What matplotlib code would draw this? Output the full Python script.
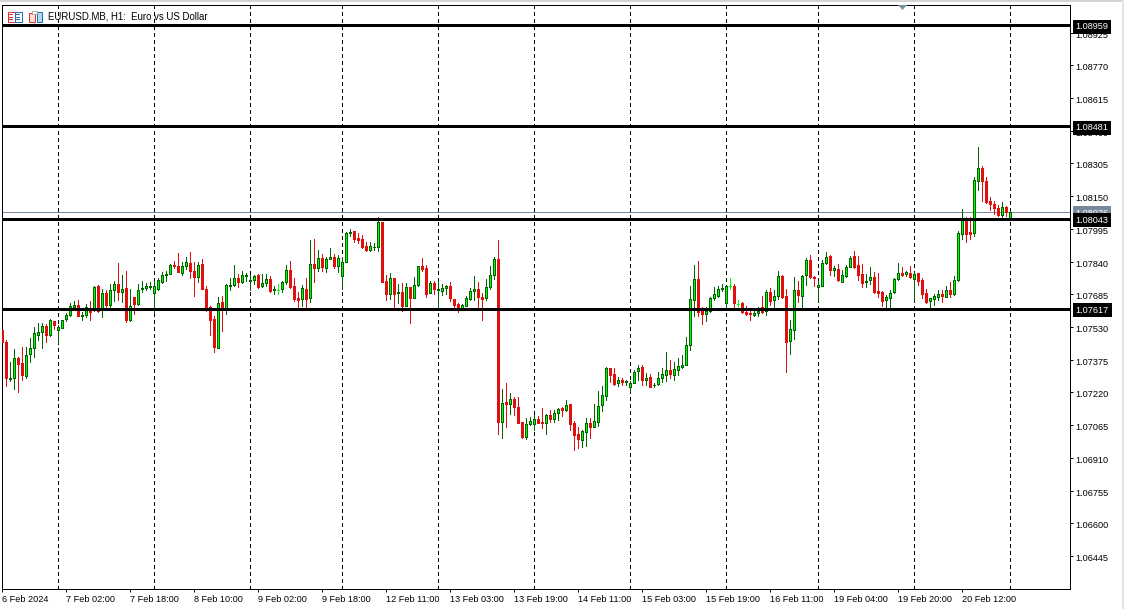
import numpy as np
import matplotlib
matplotlib.use('Agg')
import matplotlib.pyplot as plt
from matplotlib.patches import Rectangle, Polygon
from matplotlib.transforms import blended_transform_factory, ScaledTranslation

# hourly candles in points (1 point = 0.00001)
opens = [
    107518,107461,107284,107289,107385,107361,107297,107401,107431,107491,
    107505,107537,107491,107560,107514,107524,107566,107585,107626,107634,
    107581,107585,107606,107620,107724,107615,107691,107636,107704,107734,
    107694,107715,107562,107672,107641,107708,107715,107721,107690,107708,
    107743,107775,107781,107824,107821,107787,107821,107833,107795,107765,
    107830,107710,107625,107568,107431,107650,107620,107726,107727,107762,
    107742,107770,107746,107754,107776,107723,107737,107757,107704,107707,
    107708,107742,107800,107724,107668,107661,107710,107668,107828,107811,
    107857,107808,107851,107862,107817,107770,107836,107974,107986,107953,
    107948,107915,107896,107907,107907,108029,107750,107685,107762,107690,
    107696,107631,107720,107669,107727,107819,107810,107690,107738,107704,
    107699,107713,107724,107663,107641,107620,107630,107661,107699,107710,
    107674,107666,107718,107775,107852,107079,107175,107164,107189,107152,
    107080,107008,107069,107069,107095,107082,107074,107114,107093,107122,
    107144,107136,107163,107077,107021,106994,107032,107076,107055,107079,
    107159,107202,107338,107305,107264,107281,107270,107245,107264,107320,
    107342,107278,107295,107254,107259,107287,107303,107328,107301,107325,
    107339,107349,107445,107656,107757,107604,107590,107604,107666,107679,
    107710,107642,107723,107726,107641,107644,107603,107598,107585,107596,
    107625,107604,107696,107656,107675,107773,107677,107462,107514,107705,
    107675,107775,107847,107768,107720,107723,107832,107866,107798,107805,
    107745,107770,107813,107866,107824,107781,107742,107751,107768,107701,
    107696,107656,107666,107694,107756,107786,107779,107786,107756,107786,
    107754,107691,107652,107661,107671,107688,107671,107705,107688,107753,
    107970,108038,107980,107974,108224,108283,108221,108127,108112,108094,
    108059,108098,108047]
highs = [
    107518,107470,107363,107428,107390,107437,107437,107478,107532,107551,
    107549,107546,107568,107560,107541,107565,107595,107645,107653,107660,
    107600,107639,107653,107724,107729,107710,107707,107735,107750,107833,
    107778,107797,107712,107672,107735,107750,107738,107745,107746,107762,
    107792,107797,107828,107844,107882,107840,107860,107887,107838,107838,
    107852,107726,107631,107581,107672,107675,107735,107762,107825,107783,
    107797,107786,107778,107778,107783,107783,107783,107773,107726,107735,
    107750,107825,107844,107762,107696,107731,107762,107944,107948,107896,
    107876,107862,107906,107876,107873,107862,107980,107996,107986,107977,
    107967,107931,107931,107928,108051,108029,107778,107786,107762,107735,
    107738,107738,107720,107767,107821,107858,107825,107750,107750,107750,
    107732,107731,107743,107664,107644,107641,107675,107716,107773,107745,
    107691,107757,107817,107862,107944,107234,107265,107219,107199,107200,
    107082,107099,107103,107115,107106,107144,107120,107137,107139,107144,
    107150,107186,107166,107084,107058,107044,107099,107099,107167,107227,
    107249,107341,107338,107338,107294,107286,107281,107276,107324,107350,
    107352,107312,107305,107265,107317,107336,107413,107376,107366,107383,
    107399,107484,107726,107825,107844,107625,107625,107671,107721,107723,
    107734,107726,107762,107735,107656,107649,107630,107612,107620,107625,
    107678,107707,107715,107707,107797,107778,107712,107565,107767,107749,
    107778,107858,107873,107773,107749,107846,107887,107871,107817,107828,
    107798,107824,107865,107892,107868,107828,107781,107816,107792,107786,
    107702,107683,107704,107762,107835,107816,107797,107821,107791,107786,
    107762,107712,107667,107686,107707,107707,107726,107745,107773,107986,
    108090,108051,108051,108243,108382,108294,108243,108147,108128,108109,
    108123,108105,108079]
lows = [
    107458,107249,107273,107235,107221,107278,107287,107363,107387,107470,
    107429,107461,107486,107519,107454,107524,107557,107581,107620,107581,
    107562,107578,107562,107604,107600,107576,107620,107620,107655,107660,
    107647,107552,107557,107590,107636,107694,107704,107710,107596,107707,
    107738,107746,107780,107810,107789,107778,107805,107761,107679,107743,
    107708,107604,107494,107410,107431,107510,107593,107707,107726,107720,
    107738,107750,107704,107732,107716,107720,107726,107694,107688,107688,
    107694,107735,107716,107655,107620,107628,107620,107647,107742,107794,
    107794,107789,107851,107810,107789,107710,107836,107959,107931,107928,
    107904,107888,107888,107896,107888,107742,107660,107663,107620,107644,
    107604,107628,107551,107668,107723,107794,107674,107690,107688,107620,
    107683,107686,107652,107620,107600,107620,107628,107656,107656,107620,
    107562,107656,107710,107757,107025,107002,107054,107120,107115,107073,
    107005,107000,107065,107044,107073,107052,107025,107080,107080,107088,
    107110,107131,107044,106946,106959,106962,106965,107006,107054,107060,
    107131,107186,107271,107253,107249,107257,107254,107226,107264,107281,
    107257,107257,107245,107245,107257,107268,107273,107289,107278,107301,
    107336,107349,107423,107584,107581,107546,107560,107600,107660,107674,
    107701,107620,107712,107620,107620,107595,107585,107565,107581,107581,
    107596,107589,107636,107620,107664,107669,107316,107404,107475,107650,
    107620,107731,107762,107723,107652,107723,107830,107778,107773,107746,
    107742,107767,107813,107809,107754,107718,107718,107732,107691,107671,
    107628,107620,107620,107691,107751,107770,107772,107762,107652,107731,
    107667,107644,107620,107636,107660,107647,107671,107671,107683,107749,
    107948,107931,107948,107963,108177,108125,108117,108082,108067,108057,
    108049,108057,108047]
closes = [
    107458,107287,107290,107383,107353,107301,107398,107431,107502,107507,
    107537,107491,107563,107538,107530,107563,107587,107630,107634,107581,
    107587,107625,107603,107720,107604,107691,107636,107705,107734,107694,
    107710,107562,107628,107641,107705,107715,107724,107724,107724,107753,
    107776,107781,107824,107817,107792,107819,107838,107794,107765,107824,
    107708,107620,107562,107434,107644,107620,107729,107729,107762,107742,
    107776,107778,107754,107772,107721,107738,107757,107702,107710,107707,
    107743,107800,107721,107664,107656,107715,107664,107828,107811,107857,
    107813,107852,107863,107817,107857,107838,107977,107982,107948,107940,
    107910,107896,107914,107910,108027,107745,107685,107762,107686,107696,
    107631,107720,107669,107729,107819,107806,107688,107738,107708,107710,
    107715,107724,107666,107636,107620,107634,107668,107701,107710,107671,
    107661,107720,107776,107852,107079,107170,107164,107189,107150,107077,
    107008,107071,107085,107095,107077,107074,107114,107092,107123,107142,
    107136,107161,107069,107017,106998,107035,107076,107055,107085,107156,
    107208,107338,107301,107262,107281,107271,107273,107267,107317,107336,
    107278,107289,107248,107257,107289,107308,107328,107306,107331,107347,
    107350,107445,107663,107757,107603,107590,107608,107668,107686,107710,
    107715,107724,107723,107642,107641,107600,107590,107590,107596,107606,
    107600,107696,107652,107677,107773,107674,107458,107521,107705,107680,
    107772,107847,107765,107761,107729,107833,107862,107798,107809,107751,
    107776,107814,107858,107816,107775,107740,107749,107767,107694,107693,
    107655,107672,107691,107757,107786,107778,107792,107768,107781,107746,
    107688,107650,107667,107677,107686,107675,107705,107688,107753,107975,
    108041,107972,107972,108226,108283,108220,108123,108111,108092,108059,
    108098,108073,108076]

price_ticks = [1.08925, 1.08770, 1.08615, 1.08460, 1.08305, 1.08150, 1.07995, 1.07840, 1.07685,
               1.07530, 1.07375, 1.07220, 1.07065, 1.06910, 1.06755, 1.06600, 1.06445]
level_lines = [1.08959, 1.08481, 1.08043, 1.07617]
last_price = 1.08076
time_tick_bars = list(range(0, 241, 16))
time_labels = ['6 Feb 2024', '7 Feb 02:00', '7 Feb 18:00', '8 Feb 10:00', '9 Feb 02:00', '9 Feb 18:00',
               '12 Feb 11:00', '13 Feb 03:00', '13 Feb 19:00', '14 Feb 11:00', '15 Feb 03:00',
               '15 Feb 19:00', '16 Feb 11:00', '19 Feb 04:00', '19 Feb 20:00', '20 Feb 12:00']
grid_bars = [14, 38, 62, 85, 109, 133, 157, 181, 204, 228, 252]
title_text = 'EURUSD.MB, H1:  Euro vs US Dollar'

W, H = 1124, 609
plt.rcParams['font.family'] = ['Liberation Sans', 'DejaVu Sans']
FS = 6.6

fig = plt.figure(figsize=(W / 100, H / 100), dpi=100, facecolor='white')
ax = fig.add_axes([1.5 / W, 1 - 588.5 / H, 1068 / W, 584 / H])
ax.set_xlim(0, 267)
ax.set_ylim(1.06291, 1.09058)

o = np.array(opens) / 100000
h = np.array(highs) / 100000
l = np.array(lows) / 100000
c = np.array(closes) / 100000
x = np.arange(len(o))

# dashed period separators and level lines
for b in grid_bars:
    ax.axvline(b, color='black', lw=0.72, dashes=(3.5, 3.5), zorder=1, antialiased=False)
ax.axhline(last_price, color='#778899', lw=0.72, zorder=1.5, antialiased=False)


def draw_candles(mask, wick, edge, face):
    ax.vlines(x[mask], l[mask], h[mask], color=wick, lw=0.72, zorder=2, antialiased=False)
    bottoms = np.minimum(o[mask], c[mask])
    heights = np.abs(c[mask] - o[mask])
    ax.bar(x[mask], heights, bottom=bottoms, width=0.5, facecolor=face, edgecolor=edge,
           linewidth=0.72, zorder=3, antialiased=False)


draw_candles(c > o, '#006400', '#006400', '#00ff00')
draw_candles(c < o, '#e01010', '#e01010', '#e01010')
draw_candles(c == o, '#00ff00', '#00ff00', '#00ff00')

for level in level_lines:
    ax.axhline(level, color='black', lw=2.0, zorder=4, antialiased=False)

for s in ax.spines.values():
    s.set_linewidth(0.72)
    s.set_color('black')

ax.yaxis.tick_right()
ax.set_yticks(price_ticks)
ax.set_yticklabels([f'{p:.5f}' for p in price_ticks], fontsize=FS)
ax.tick_params(axis='y', length=2.5, width=0.72, pad=2, color='black')
ax.set_xticks(time_tick_bars)
ax.set_xticklabels(time_labels, fontsize=FS, ha='left')
ax.tick_params(axis='x', length=2.5, width=0.72, pad=2, color='black')

# labels sit a little lower than matplotlib centres them
down = ScaledTranslation(0, -1.5 / 100, fig.dpi_scale_trans)
for lbl in ax.get_yticklabels():
    lbl.set_transform(lbl.get_transform() + down)

# price tags on the right scale
tag_tf = blended_transform_factory(ax.transAxes, ax.transData) + down
tag_x = 1 + 6 / 1068
ax.text(tag_x, last_price, f'{last_price:.5f}', transform=tag_tf, fontsize=FS, color='white', va='center',
        ha='left', zorder=5, clip_on=False, bbox=dict(boxstyle='square,pad=0.3', fc='#778899', ec='none'))
for level in level_lines:
    ax.text(tag_x, level, f'{level:.5f}', transform=tag_tf, fontsize=FS, color='white', va='center', ha='left',
            zorder=6, clip_on=False, bbox=dict(boxstyle='square,pad=0.3', fc='black', ec='none'))


def px_rect(x0, y0, w, h_, **kw):
    fig.add_artist(Rectangle((x0 / W, 1 - (y0 + h_) / H), w / W, h_ / H, transform=fig.transFigure, **kw))


# window edge
px_rect(0, 0, W, 2, fc='#d4d4d4', ec='none')
px_rect(W - 2, 0, 2, H, fc='#e4e4e4', ec='none')

# chart title icons
px_rect(7.5, 11.5, 7, 10, fc='white', ec='#e03030', lw=0.72)
px_rect(14.5, 11.5, 7, 10, fc='white', ec='#2070b0', lw=0.72)
for yy in (14, 16.5, 19):
    px_rect(9, yy, 4, 1, fc='#e03030', ec='none')
    px_rect(16, yy, 4, 1, fc='#2070b0', ec='none')
px_rect(28.5, 12.5, 6, 9, fc='#fde0d8', ec='#e03030', lw=0.72)
px_rect(37.5, 11.5, 5, 10, fc='#b0d8f0', ec='#2070b0', lw=0.72)
px_rect(32, 11, 5, 3, fc='white', ec='#909090', lw=0.5)

fig.text(48 / W, 1 - 16.5 / H, title_text, fontsize=6.9, color='black', va='center', ha='left')

# small marker at the top of the chart
fig.add_artist(Polygon([(898 / W, 1 - 5 / H), (907 / W, 1 - 5 / H), (902.5 / W, 1 - 10 / H)],
                       transform=fig.transFigure, fc='#7890a0', ec='none'))

fig.savefig('out.png', dpi=100)
